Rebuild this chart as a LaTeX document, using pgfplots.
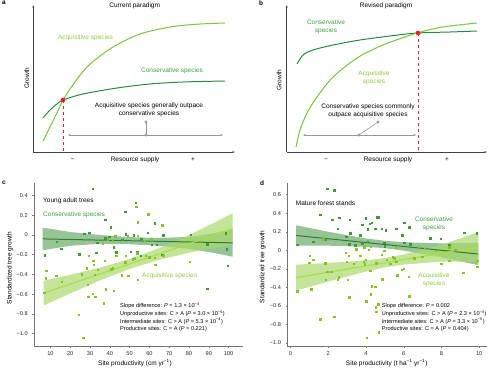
\documentclass[border=0pt]{standalone}
\usepackage{pgfplots}
\pgfplotsset{compat=1.18}
\usepackage{fontspec}
\setmainfont{Liberation Sans}
\usetikzlibrary{arrows.meta}
\definecolor{acq}{HTML}{7DC242}
\definecolor{con}{HTML}{2C8A3C}
\definecolor{acqtxt}{HTML}{8CCB3F}
\definecolor{context}{HTML}{3E9E40}
\definecolor{acqline}{HTML}{A6E22E}
\definecolor{conline}{HTML}{2E7D32}
\definecolor{acqband}{HTML}{A9D86E}
\definecolor{conband}{HTML}{5FA55F}
\definecolor{ptl}{HTML}{86C226}
\definecolor{ptd}{HTML}{3F9A35}
\definecolor{redpt}{HTML}{EE1C25}
\definecolor{grayc}{HTML}{999999}
\newcommand\fa{\fontsize{6.5}{7.7}\selectfont}
\newcommand\fb{\fontsize{5.6}{7.4}\selectfont}
\pgfplotsset{
 schem/.style={scale only axis, anchor=south west, axis lines=left,
   axis line style={-{Latex[length=2.5pt,width=2pt]}, black!75, line width=0.5pt},
   xtick=\empty, ytick=\empty, ymin=0, ymax=147, clip=false},
 dat/.style={scale only axis, anchor=south west, axis lines=left,
   axis line style={-, black!55, line width=0.4pt},
   tick align=outside, major tick length=1.8pt, tick style={black!55, line width=0.4pt},
   ticklabel style={font=\fb, text=black!85},
   yticklabel style={xshift=-1pt},
   clip=false},
}
\begin{document}
\begin{tikzpicture}
\path[use as bounding box] (0,0) rectangle (500pt,-372pt);

% ---------- panel a ----------
\begin{axis}[schem, at={(33.3pt,-152pt)}, width=201.7pt, height=147pt, xmin=33.3, xmax=235]
\addplot[acq, line width=1pt, smooth] coordinates {(43,11) (50,25) (57,39) (63,52) (75,70) (87,85) (100,96) (113,105) (128,113) (143,119) (160,123) (177,126) (200,128) (225,129)};
\addplot[con, line width=1pt, smooth] coordinates {(43,34) (50,42) (57,48) (63,52) (83,58) (117,64) (150,68) (183,70) (225,71)};
\addplot[redpt, dashed, line width=0.7pt] coordinates {(63,52) (63,0)};
\addplot[only marks, mark=*, mark size=2.1pt, color=redpt] coordinates {(63,52)};
\addplot[grayc, line width=0.6pt, {Stealth[length=3pt,width=2.5pt]}-{Stealth[length=3pt,width=2.5pt]}] coordinates {(68,17) (223,17)};
\addplot[grayc, line width=0.6pt, mark=*, mark size=1.2pt, mark options={fill=grayc, draw=none}] coordinates {(146,17) (146,30)};
\end{axis}

% ---------- panel b ----------
\begin{axis}[schem, at={(286.7pt,-152pt)}, width=200.3pt, height=147pt, xmin=286.7, xmax=487]
\addplot[con, line width=1pt, smooth] coordinates {(297,88) (303,97) (313,102) (333,107) (360,112) (390,116) (417,119) (450,120) (477,121)};
\addplot[acq, line width=1pt, smooth] coordinates {(296,5) (300,22) (307,39) (317,55) (333,75) (357,94) (383,107) (417,119) (443,125) (477,129)};
\addplot[redpt, dashed, line width=0.7pt] coordinates {(418,119) (418,0)};
\addplot[only marks, mark=*, mark size=2.1pt, color=redpt] coordinates {(418,119)};
\addplot[grayc, line width=0.6pt, {Stealth[length=3pt,width=2.5pt]}-{Stealth[length=3pt,width=2.5pt]}] coordinates {(303,17) (416,17)};
\addplot[grayc, line width=0.6pt, mark=*, mark size=1.2pt, mark options={fill=grayc, draw=none}] coordinates {(359,17) (378,30)};
\end{axis}

% ---------- panel c ----------
\begin{axis}[dat, at={(34pt,-346pt)}, width=209pt, height=163pt,
  xmin=1.7, xmax=107.3, ymin=-1.126, ymax=0.527,
  xtick={10,20,30,40,50,60,70,80,90,100},
  xticklabels={10,20,30,40,50,60,70,80,90,100},
  ytick={-1,-0.8,-0.6,-0.4,-0.2,0,0.2,0.4},
  yticklabels={−1.0,−0.8,−0.6,−0.4,−0.2,0,0.2,0.4}]
\addplot[draw=none, fill=conband, fill opacity=0.65] coordinates {(6,0.075) (20,0.03) (35,0.0) (50,-0.022) (65,-0.03) (80,-0.02) (92,0.015) (102,0.06) (102,-0.22) (92,-0.18) (80,-0.14) (65,-0.11) (50,-0.094) (35,-0.09) (20,-0.11) (6,-0.155)} -- cycle;
\addplot[draw=none, fill=acqband, fill opacity=0.7] coordinates {(6.5,-0.465) (20,-0.403) (35,-0.331) (50,-0.244) (65,-0.132) (80,0.0) (92,0.117) (102,0.22) (102,-0.10) (92,-0.133) (80,-0.18) (65,-0.252) (50,-0.344) (35,-0.461) (20,-0.593) (6.5,-0.715)} -- cycle;
\addplot[only marks, mark=square*, mark size=0.7pt, color=ptd] coordinates {
(31.4,0.467) (53.1,0.325) (47.8,0.237) (37.6,0.152) (62.6,0.118) (40.5,0.078) (29.5,0.024) (27.0,0.010)
(13.1,-0.068) (15.4,-0.139) (7.0,-0.206) (33.7,-0.078) (39.7,-0.017) (48.0,0.007) (52.0,-0.003) (59.2,0.024)
(46.3,-0.050) (55.8,-0.044) (41.9,-0.125) (43.2,-0.176) (53.8,-0.169) (61.2,-0.101) (63.6,-0.101) (67.0,-0.003)
(80.9,0.000) (89.2,-0.095) (98.7,0.017) (99.2,-0.145) (24.6,-0.196) (33.2,-0.179) (37.6,-0.034) (50.7,-0.169)
(55.5,-0.213) (66.5,-0.203) (89.2,-0.544) (99.5,-0.314)};
\addplot[only marks, mark=square*, mark size=0.7pt, color=ptl] coordinates {
(53.4,0.284) (59.5,0.210) (54.1,0.128) (66.5,0.100) (7.8,-0.360) (7.5,-0.440) (12.9,-0.416) (15.6,-0.473)
(6.8,-0.585) (29.2,-0.213) (31.7,-0.260) (31.9,-0.300) (33.9,-0.355) (37.5,-0.260) (28.3,-0.338) (25.9,-0.396)
(32.4,-0.400) (28.7,-0.507) (31.4,-0.595) (29.0,-0.625) (32.7,-0.629) (37.8,-0.551) (42.0,-0.568) (36.9,-0.693)
(24.4,-0.808) (26.5,-1.040) (40.7,-0.348) (41.5,-0.335) (43.2,-0.213) (46.1,-0.406) (49.2,-0.416) (47.8,-0.277)
(48.1,-0.213) (51.7,-0.247) (52.7,-0.237) (53.9,-0.186) (54.1,-0.453) (58.0,-0.213) (59.9,-0.227) (62.8,-0.233)
(63.0,-0.304) (67.0,-0.213) (80.5,-0.270) (36.3,-0.090) (42.7,-0.014) (49.0,-0.007) (54.0,-0.010) (60.9,-0.044)
(41.4,-0.057) (38.9,-0.044) (57.5,-0.057)};
\addplot[conline, line width=1pt] coordinates {(6,-0.04) (102,-0.08)};
\addplot[acqline, line width=1pt] coordinates {(6.5,-0.59) (102,0.06)};
\end{axis}

% ---------- panel d ----------
\begin{axis}[dat, at={(287.3pt,-346pt)}, width=200pt, height=163pt,
  xmin=-0.17, xmax=10.43, ymin=-1.032, ymax=0.726,
  xtick={0,2,4,6,8,10}, xticklabels={0,2,4,6,8,10},
  ytick={-1,-0.8,-0.6,-0.4,-0.2,0,0.2,0.4,0.6},
  yticklabels={−1.0,−0.8,−0.6,−0.4,−0.2,0,0.2,0.4,0.6}]
\addplot[draw=none, fill=conband, fill opacity=0.65] coordinates {(0.3,0.27) (2,0.2) (4,0.128) (5,0.103) (6,0.087) (8,0.075) (9.95,0.08) (9.95,-0.16) (8,-0.075) (6,-0.003) (5,0.023) (4,0.038) (2,0.05) (0.3,0.05)} -- cycle;
\addplot[draw=none, fill=acqband, fill opacity=0.7] coordinates {(0.3,-0.155) (2,-0.137) (4,-0.108) (5,-0.084) (6,-0.044) (8,0.059) (9.95,0.196) (9.95,-0.124) (8,-0.121) (6,-0.154) (5,-0.184) (4,-0.228) (2,-0.337) (0.3,-0.435)} -- cycle;
\addplot[only marks, mark=square*, mark size=0.7pt, color=ptd] coordinates {
(1.95,0.662) (2.31,0.647) (1.58,0.381) (2.22,0.327) (2.57,0.349) (3.15,0.327) (4.00,0.345) (4.19,0.284)
(4.56,0.356) (4.68,0.356) (4.08,0.227) (4.30,0.299) (4.49,0.230) (4.84,0.230) (5.05,0.219) (5.60,0.230)
(6.02,0.299) (6.28,0.248) (5.92,0.165) (3.80,0.277) (3.17,0.183) (2.50,0.230) (2.96,0.147) (3.70,0.165)
(0.35,0.061) (1.21,0.094) (1.83,0.119) (3.10,0.065) (3.43,0.054) (3.79,0.076) (4.08,0.094) (4.97,0.083)
(6.34,0.068) (6.02,0.083) (7.41,0.129) (7.96,0.126) (9.21,0.190) (9.86,0.183) (8.42,0.058) (5.00,0.043)};
\addplot[only marks, mark=square*, mark size=0.7pt, color=ptl] coordinates {
(1.73,0.122) (1.02,-0.061) (0.99,-0.133) (1.21,-0.104) (1.83,-0.140) (0.35,-0.439) (1.09,-0.420) (1.95,-0.230)
(2.15,-0.230) (2.54,-0.290) (2.50,-0.320) (1.87,-0.320) (1.58,-0.741) (2.32,-0.716) (3.12,-0.507) (2.99,-0.122)
(3.03,-0.320) (3.35,-0.147) (3.70,-0.061) (3.87,-0.122) (3.98,-0.104) (3.93,-0.151) (4.14,0.004) (4.31,-0.385)
(4.26,-0.475) (4.01,-0.550) (4.05,-0.942) (4.49,-0.392) (4.65,-0.579) (4.51,-0.615) (4.54,-0.662) (4.68,-0.885)
(4.86,-0.313) (4.23,-0.219) (4.54,-0.140) (4.84,-0.050) (5.11,-0.104) (4.97,-0.004) (5.28,-0.147) (5.42,-0.076)
(5.53,-0.086) (5.60,-0.122) (5.65,-0.270) (5.88,-0.212) (6.00,-0.198) (6.27,-0.284) (6.30,-0.493) (6.55,-0.083)
(6.78,0.040) (6.97,-0.068) (7.69,-0.007) (7.99,-0.147) (8.42,-0.112) (8.42,0.032) (8.73,0.004) (9.15,-0.240)
(9.89,-0.112) (9.89,-0.176) (7.11,0.018) (3.49,0.014) (3.08,-0.061) (2.92,-0.025) (3.91,0.032) (4.26,0.040)
(5.58,0.032)};
\addplot[conline, line width=1pt] coordinates {(0.3,0.16) (9.95,-0.04)};
\addplot[acqline, line width=1pt] coordinates {(0.3,-0.295) (9.95,0.036)};
\end{axis}

% ---------- text ----------
\begin{scope}[every node/.style={inner sep=0pt, font=\fa}]
\node[anchor=north west, font=\fa\bfseries] at (2pt,-1pt) {a};
\node[anchor=north west, font=\fa\bfseries] at (259pt,-1pt) {b};
\node[anchor=north west, font=\fa\bfseries] at (2pt,-181pt) {c};
\node[anchor=north west, font=\fa\bfseries] at (260pt,-181pt) {d};
% panel a
\node at (134.7pt,-6pt) {Current paradigm};
\node[text=acqtxt] at (85.5pt,-37.7pt) {Acquisitive species};
\node[text=context] at (172pt,-70.7pt) {Conservative species};
\node[align=center] at (149pt,-109.5pt) {Acquisitive species generally outpace\\conservative species};
\node at (135pt,-159.5pt) {Resource supply};
\node at (72.7pt,-160pt) {−};
\node at (193pt,-160pt) {+};
\node[rotate=90] at (26.7pt,-78pt) {Growth};
% panel b
\node at (386pt,-6pt) {Revised paradigm};
\node[text=context, align=center] at (326pt,-27pt) {Conservative\\species};
\node[text=acqtxt, align=center] at (374pt,-78pt) {Acquisitive\\species};
\node[align=center] at (368pt,-110.5pt) {Conservative species commonly\\outpace acquisitive species};
\node at (388pt,-159.5pt) {Resource supply};
\node at (326pt,-160pt) {−};
\node at (447pt,-160pt) {+};
\node[rotate=90] at (279pt,-80pt) {Growth};
% panel c
\node[anchor=west] at (43pt,-201pt) {Young adult trees};
\node[anchor=west, text=context] at (43pt,-214.5pt) {Conservative species};
\node[anchor=west, text=acqtxt] at (142pt,-275.7pt) {Acquisitive species};
\node[rotate=90] at (10pt,-268pt) {Standardized tree growth};
\node at (135pt,-363.3pt) {Site productivity (cm yr\textsuperscript{−1})};
\node[anchor=west, font=\fb] at (120pt,-305.7pt) {Slope difference: \textit{P} = 1.3 × 10\textsuperscript{−4}};
\node[anchor=west, font=\fb] at (120pt,-313.5pt) {Unproductive sites: C > A (\textit{P} = 3.0 × 10\textsuperscript{−6})};
\node[anchor=west, font=\fb] at (120pt,-321.2pt) {Intermediate sites: C > A (\textit{P} = 5.3 × 10\textsuperscript{−4})};
\node[anchor=west, font=\fb] at (120pt,-328.8pt) {Productive sites: C = A (\textit{P} = 0.221)};
% panel d
\node[anchor=west] at (295.7pt,-202.7pt) {Mature forest stands};
\node[text=context, align=center] at (434pt,-223.5pt) {Conservative\\species};
\node[text=acqtxt, align=center] at (434pt,-279.7pt) {Acquisitive\\species};
\node[rotate=90] at (262.7pt,-266.7pt) {Standardized tree growth};
\node at (386.7pt,-363.3pt) {Site productivity (t ha\textsuperscript{−1} yr\textsuperscript{−1})};
\node[anchor=west, font=\fb] at (381.7pt,-305.7pt) {Slope difference: \textit{P} = 0.002};
\node[anchor=west, font=\fb] at (381.7pt,-313.5pt) {Unproductive sites: C > A (\textit{P} = 2.3 × 10\textsuperscript{−4})};
\node[anchor=west, font=\fb] at (381.7pt,-321.2pt) {Intermediate sites: C > A (\textit{P} = 3.3 × 10\textsuperscript{−5})};
\node[anchor=west, font=\fb] at (381.7pt,-328.8pt) {Productive sites: C = A (\textit{P} = 0.404)};
\end{scope}
\end{tikzpicture}
\end{document}
